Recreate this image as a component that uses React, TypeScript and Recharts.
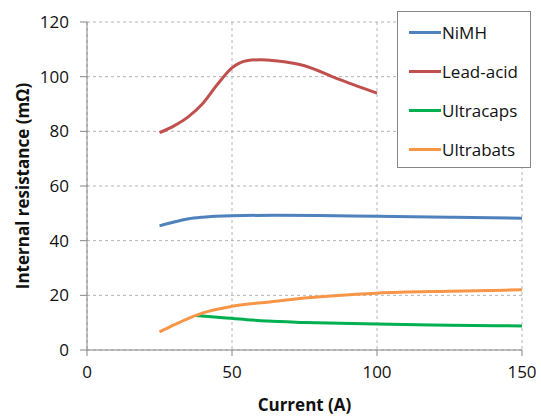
import { LineChart, Line, XAxis, YAxis, CartesianGrid } from 'recharts';

// Internal resistance (mΩ) against current (A) for four storage technologies
const nimh = [
  { current: 25, r: 45.4 }, { current: 30, r: 46.8 }, { current: 35, r: 48 },
  { current: 40, r: 48.6 }, { current: 50, r: 49.1 }, { current: 65, r: 49.3 },
  { current: 80, r: 49.2 }, { current: 100, r: 48.9 }, { current: 125, r: 48.6 },
  { current: 150, r: 48.2 },
];
const leadAcid = [
  { current: 25, r: 79.5 }, { current: 30, r: 82 }, { current: 35, r: 85.4 },
  { current: 40, r: 90.3 }, { current: 45, r: 97.2 }, { current: 50, r: 103.2 },
  { current: 55, r: 105.8 }, { current: 60, r: 106.2 }, { current: 65, r: 105.8 },
  { current: 75, r: 104 }, { current: 86, r: 99.4 }, { current: 100, r: 94 },
];
const ultracaps = [
  { current: 37.5, r: 12.6 }, { current: 45, r: 12 }, { current: 55, r: 11.1 },
  { current: 62, r: 10.6 }, { current: 75, r: 10.1 }, { current: 100, r: 9.5 },
  { current: 125, r: 9.1 }, { current: 150, r: 8.8 },
];
const ultrabats = [
  { current: 25, r: 6.6 }, { current: 30, r: 9.2 }, { current: 35, r: 11.6 },
  { current: 40, r: 13.6 }, { current: 50, r: 16 }, { current: 63, r: 17.6 },
  { current: 75, r: 19 }, { current: 100, r: 20.8 }, { current: 125, r: 21.5 },
  { current: 150, r: 22 },
];
const xTicks = [0, 50, 100, 150];
const yTicks = [0, 20, 40, 60, 80, 100, 120];

const FONT = '"Open Sans", sans-serif';

const series = [
  { name: 'NiMH', data: nimh, color: '#4F81BD' },
  { name: 'Lead-acid', data: leadAcid, color: '#C0504D' },
  { name: 'Ultracaps', data: ultracaps, color: '#00B050' },
  { name: 'Ultrabats', data: ultrabats, color: '#F79646' },
];

const LegendBox = () => (
  <div
    style={{
      position: 'absolute',
      left: 397,
      top: 11,
      width: 134,
      height: 157,
      border: '1px solid #868686',
      background: '#fff',
      boxSizing: 'border-box',
      paddingTop: 1,
      fontFamily: FONT,
      fontSize: 17,
      color: '#111',
    }}
  >
    {series.map((s) => (
      <div key={s.name} style={{ display: 'flex', alignItems: 'center', height: 39 }}>
        <span style={{ display: 'inline-block', width: 32, height: 3, background: s.color, marginLeft: 11 }} />
        <span style={{ marginLeft: 1 }}>{s.name}</span>
      </div>
    ))}
  </div>
);

const YTitle = () => (
  <text
    x={22}
    y={186}
    transform="rotate(-90 22 186)"
    textAnchor="middle"
    dominantBaseline="central"
    fontFamily={FONT}
    fontSize={17}
    fontWeight="bold"
    fill="#111"
  >
    Internal resistance (mΩ)
  </text>
);

export default function App() {
  return (
    <div style={{ position: 'absolute', left: 0, top: 0, width: 541, height: 417, background: '#fff' }}>
      <LineChart width={541} height={417} margin={{ top: 22, right: 19, bottom: 0, left: 0 }}>
        <CartesianGrid stroke="#b4b4b4" strokeDasharray="3 3" />
        <XAxis
          type="number"
          dataKey="current"
          domain={[0, 150]}
          ticks={xTicks}
          allowDuplicatedCategory={false}
          height={67}
          stroke="#868686"
          tickSize={6}
          tickMargin={10}
          tick={{ fill: '#111', fontSize: 17, fontFamily: FONT }}
          label={{
            value: 'Current (A)',
            position: 'insideBottom',
            offset: 6,
            fill: '#111',
            fontSize: 17,
            fontWeight: 'bold',
            fontFamily: FONT,
          }}
        />
        <YAxis
          type="number"
          dataKey="r"
          domain={[0, 120]}
          ticks={yTicks}
          width={87}
          stroke="#868686"
          tickSize={7}
          tickMargin={11}
          tick={{ fill: '#111', fontSize: 17, fontFamily: FONT }}
          label={<YTitle />}
        />
        {series.map((s) => (
          <Line
            key={s.name}
            name={s.name}
            data={s.data}
            dataKey="r"
            type="monotone"
            stroke={s.color}
            strokeWidth={3}
            dot={false}
            activeDot={false}
            isAnimationActive={false}
          />
        ))}
      </LineChart>
      <LegendBox />
    </div>
  );
}
